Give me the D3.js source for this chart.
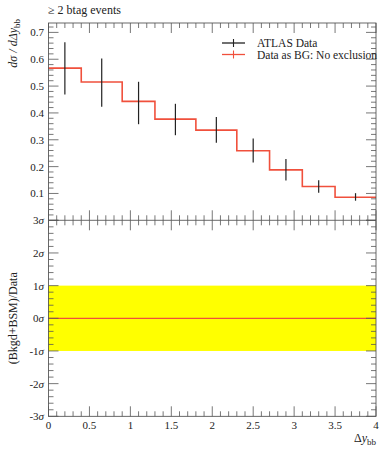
<!DOCTYPE html>
<html><head><meta charset="utf-8">
<script src="https://cdn.jsdelivr.net/npm/d3@7"></script>
<style>
body{margin:0;background:#fff;}
svg text{font-family:"Liberation Serif","DejaVu Serif",serif;fill:#222;}
</style></head>
<body><svg id="c" width="389" height="450"></svg>
<script>
const binEdges = [0, 0.4, 0.9, 1.3, 1.8, 2.3, 2.7, 3.1, 3.5, 4.0];
const binCenters = [0.2, 0.65, 1.1, 1.55, 2.05, 2.5, 2.9, 3.3, 3.75];
const dataValues = [0.567, 0.515, 0.443, 0.377, 0.336, 0.259, 0.188, 0.126, 0.086];
const errUp = [0.663, 0.603, 0.516, 0.434, 0.385, 0.305, 0.228, 0.149, 0.101];
const errDown = [0.469, 0.423, 0.358, 0.317, 0.289, 0.215, 0.148, 0.103, 0.073];
const xTicks = [0, 0.5, 1, 1.5, 2, 2.5, 3, 3.5, 4];
const xTickLabels = ["0", "0.5", "1", "1.5", "2", "2.5", "3", "3.5", "4"];
const yTopTicks = [0.1, 0.2, 0.3, 0.4, 0.5, 0.6, 0.7];
const yTopTickLabels = ["0.1", "0.2", "0.3", "0.4", "0.5", "0.6", "0.7"];
const sigmaTicks = [-3, -2, -1, 0, 1, 2, 3];
const sigmaBand = [-1, 1];
const legendLabels = ["ATLAS Data", "Data as BG: No exclusion"];

const RED = "#f0503c";
const svg = d3.select("#c");
const L = 48.5, R = 376, T = 23, M = 220.3, B = 416.3;
const x = d3.scaleLinear().domain([0, 4]).range([L, R]);
const yT = d3.scaleLinear().domain([0, 0.735]).range([M, T]);
const yB = d3.scaleLinear().domain([-3, 3]).range([B, M]);

// yellow band
svg.append("rect").attr("x", x(0)).attr("width", x(4) - x(0))
  .attr("y", yB(sigmaBand[1])).attr("height", yB(sigmaBand[0]) - yB(sigmaBand[1]))
  .attr("fill", "#ffff00");
svg.append("line").attr("x1", x(0)).attr("x2", x(4)).attr("y1", yB(0)).attr("y2", yB(0))
  .attr("stroke", RED).attr("stroke-width", 1.3);

// histogram
const pts = [];
dataValues.forEach((v, i) => { pts.push([binEdges[i], v]); pts.push([binEdges[i + 1], v]); });
svg.append("path").attr("d", d3.line().x(d => x(d[0])).y(d => yT(d[1]))(pts))
  .attr("fill", "none").attr("stroke", RED).attr("stroke-width", 1.6);

// error bars
const eg = svg.append("g");
binCenters.forEach((c, i) => {
  eg.append("line").attr("x1", x(c)).attr("x2", x(c)).attr("y1", yT(errUp[i])).attr("y2", yT(errDown[i]))
    .attr("stroke", "#222").attr("stroke-width", 1.2);
});

// frame
const fr = svg.append("g").attr("fill", "none").attr("stroke", "#444").attr("stroke-width", 0.8);
fr.append("rect").attr("x", L).attr("y", T).attr("width", R - L).attr("height", B - T);
fr.append("line").attr("x1", L).attr("x2", R).attr("y1", M).attr("y2", M);

// ticks
const tk = svg.append("g").attr("stroke", "#555").attr("stroke-width", 0.8);
const xMinor = d3.range(0, 4.0001, 0.1);
function xTickSet(yPos, dir) {
  xMinor.forEach(v => {
    const major = Math.abs(v * 2 - Math.round(v * 2)) < 1e-6;
    const len = major ? 10 : 5;
    tk.append("line").attr("x1", x(v)).attr("x2", x(v)).attr("y1", yPos).attr("y2", yPos + dir * len);
  });
}
xTickSet(T, 1); xTickSet(M, -1); xTickSet(M, 1); xTickSet(B, -1);
d3.range(0, 0.7351, 0.02).forEach(v => {
  const major = Math.abs(v * 10 - Math.round(v * 10)) < 1e-6;
  const len = major ? 10 : 5;
  tk.append("line").attr("x1", L).attr("x2", L + len).attr("y1", yT(v)).attr("y2", yT(v));
  tk.append("line").attr("x1", R).attr("x2", R - len).attr("y1", yT(v)).attr("y2", yT(v));
});
d3.range(-3, 3.001, 0.2).forEach(v => {
  const major = Math.abs(v - Math.round(v)) < 1e-6;
  const len = major ? 10 : 5;
  tk.append("line").attr("x1", L).attr("x2", L + len).attr("y1", yB(v)).attr("y2", yB(v));
  tk.append("line").attr("x1", R).attr("x2", R - len).attr("y1", yB(v)).attr("y2", yB(v));
});

// tick labels
const fs = 11;
xTicks.forEach((v, i) => {
  svg.append("text").attr("x", x(v)).attr("y", 429).attr("text-anchor", "middle")
    .attr("font-size", fs).text(xTickLabels[i]);
});
yTopTicks.forEach((v, i) => {
  svg.append("text").attr("x", 44).attr("y", yT(v) + 4).attr("text-anchor", "end")
    .attr("font-size", fs).text(yTopTickLabels[i]);
});
sigmaTicks.forEach(v => {
  const t = svg.append("text").attr("x", 44).attr("y", yB(v) + 4).attr("text-anchor", "end").attr("font-size", fs);
  t.append("tspan").text(String(v));
  t.append("tspan").attr("font-style", "italic").text("σ");
});

// title
svg.append("text").attr("x", 48).attr("y", 14).attr("font-size", 12).text("≥ 2 btag events");

// axis labels
const yl = svg.append("text").attr("transform", "translate(17,19) rotate(-90)")
  .attr("text-anchor", "end").attr("font-size", 12);
yl.append("tspan").attr("font-style", "italic").text("dσ / dΔy");
yl.append("tspan").attr("font-size", 9).attr("dy", 3).text("bb");
svg.append("text").attr("transform", `translate(17,${yB(0)}) rotate(-90)`)
  .attr("text-anchor", "middle").attr("font-size", 12).text("(Bkgd+BSM)/Data");
const xl = svg.append("text").attr("x", R).attr("y", 442).attr("text-anchor", "end").attr("font-size", 12);
xl.append("tspan").text("Δ");
xl.append("tspan").attr("font-style", "italic").text("y");
xl.append("tspan").attr("font-size", 9).attr("dy", 3).text("bb");

// legend
const legColors = ["#222", RED];
const legY = [43, 54.5];
legendLabels.forEach((lab, i) => {
  const g = svg.append("g");
  g.append("line").attr("x1", 222).attr("x2", 245).attr("y1", legY[i]).attr("y2", legY[i])
    .attr("stroke", legColors[i]).attr("stroke-width", 1.3);
  g.append("line").attr("x1", 233.5).attr("x2", 233.5).attr("y1", legY[i] - 4).attr("y2", legY[i] + 4)
    .attr("stroke", legColors[i]).attr("stroke-width", 1.1);
  g.append("text").attr("x", 257).attr("y", legY[i] + 4).attr("font-size", 11.5).text(lab);
});
</script></body></html>
